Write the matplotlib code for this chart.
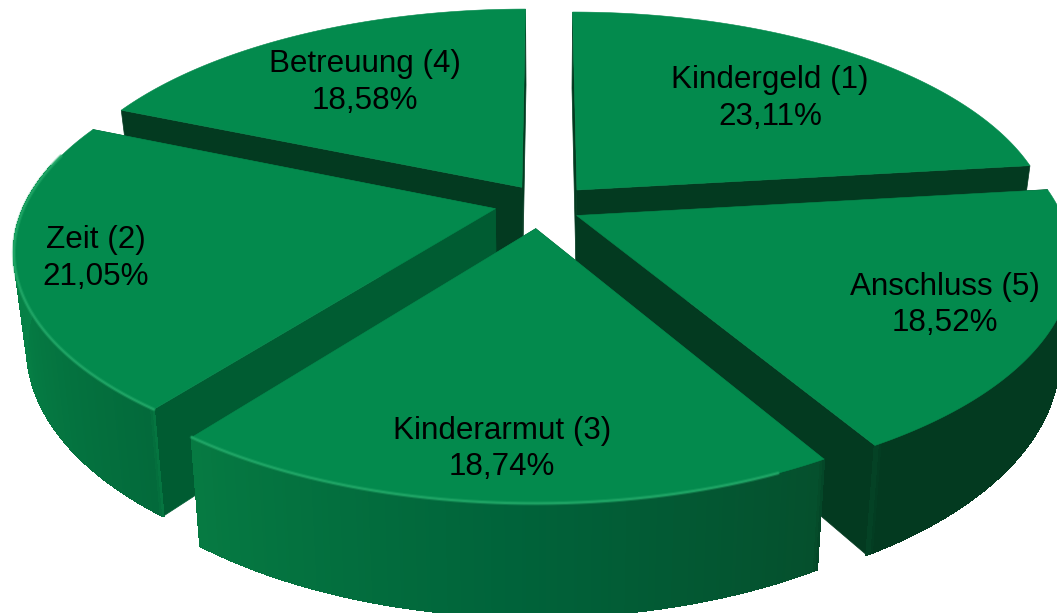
# -*- coding: utf-8 -*-
"""
Exploded 3D pie, drawn by hand because matplotlib has no real 3D pie.
Pixel space axes: x to the right, y downwards.
"""
import numpy as np
import matplotlib
matplotlib.use("Agg")
import matplotlib.pyplot as plt
from matplotlib.collections import PolyCollection
from matplotlib.colors import to_rgb

#%% --- Data (clockwise from 12 o'clock) ---

categories = ["Kindergeld (1)", "Anschluss (5)", "Kinderarmut (3)", "Zeit (2)", "Betreuung (4)"]
shares = [23.11, 18.52, 18.74, 21.05, 18.58]
share_labels = ["23,11%", "18,52%", "18,74%", "21,05%", "18,58%"]

#%% --- Projection settings ---

cx, cy = 540.5, 205.6
rx, ry = 482.0, 219.6
persp = 0.1855
explode = 0.09
depth = 91.0
shrink = 0.025

top_color = "#038a4d"
cut_dark = "#033a20"
cut_mid = "#005c32"
rim_color = "#22a868"

# per slice fine tuning: pixel nudge and radius factor
nudge = [(8, -1), (-3, 1), (-2, 3), (-3, -2), (5, -2)]
radius = [0.98, 1.0, 0.985, 0.975, 0.985]

# shading of the outer wall, by angle
shade_angles = [80, 149, 150.5, 182, 217, 218, 255, 300]
shade_colors = ["#033a20", "#033a20", "#05502d", "#00633a", "#067a42", "#036a3b", "#067f45", "#088a4c"]
shade_rgb = np.array([to_rgb(c) for c in shade_colors])

label_xy = {"Kindergeld (1)": (770, 80, 770, 117),
            "Anschluss (5)": (945, 287, 945, 323),
            "Kinderarmut (3)": (502, 431, 502, 467),
            "Zeit (2)": (96, 240, 96, 277),
            "Betreuung (4)": (365, 64, 365, 101)}


def project(x, y, z, off):
    s = 1.0 / (1.0 + persp * y)
    sx = cx + rx * x * s * (1 - shrink * z) + off[0]
    sy = cy - ry * y * s + depth * s * z + off[1]
    return np.column_stack([sx, sy])


def wall_shade(angle):
    return np.column_stack([np.interp(angle, shade_angles, shade_rgb[:, i]) for i in range(3)])


#%% --- Slice angles ---

edges = np.concatenate([[0], np.cumsum(shares)]) / np.sum(shares) * 360.0
slices = []
for i in range(len(shares)):
    a0, a1 = edges[i], edges[i + 1]
    mid = np.radians((a0 + a1) / 2)
    slices.append({"a0": a0, "a1": a1,
                   "ox": explode * np.sin(mid),
                   "oy": explode * np.cos(mid)})

#%% --- Figure ---

fig = plt.figure(figsize=(10.57, 6.13), dpi=100)
ax = fig.add_axes([0, 0, 1, 1])
ax.set_xlim(0, 1057)
ax.set_ylim(613, 0)
ax.axis("off")

# back slices first: Betreuung, Kindergeld, Zeit, Anschluss, Kinderarmut
draw_order = [4, 0, 3, 1, 2]
cut_colors = {0: cut_dark, 1: cut_dark, 2: cut_mid, 3: cut_mid, 4: cut_dark}

for i in draw_order:
    sl = slices[i]
    ang = np.linspace(sl["a0"], sl["a1"], 200)
    rad = np.radians(ang)
    x = sl["ox"] + radius[i] * np.sin(rad)
    y = sl["oy"] + radius[i] * np.cos(rad)
    up = project(x, y, 0.0, nudge[i])
    low = project(x, y, 1.0, nudge[i])
    apex_up = project(np.array([sl["ox"]]), np.array([sl["oy"]]), 0.0, nudge[i])
    apex_low = project(np.array([sl["ox"]]), np.array([sl["oy"]]), 1.0, nudge[i])

    # the two cut faces
    for end in [0, -1]:
        face = np.vstack([apex_up, up[end], low[end], apex_low])
        ax.fill(face[:, 0], face[:, 1], color=cut_colors[i], lw=0.5, zorder=1)

    # outer wall as many thin quads, only the part that faces the viewer
    front = np.where((ang >= 88) & (ang <= 282))[0]
    if len(front) > 1:
        quads = [np.vstack([up[j], up[j + 1], low[j + 1], low[j]]) for j in front[:-1]]
        cols = wall_shade(ang[front[:-1]])
        ax.add_collection(PolyCollection(quads, facecolors=cols, edgecolors=cols,
                                         linewidths=1.0, antialiaseds=False, zorder=1))

    # lid
    lid = np.vstack([apex_up, up])
    ax.fill(lid[:, 0], lid[:, 1], color=top_color, lw=0.4, zorder=1)

    # light rim on the lit front-left part
    mask = (ang > 155) & (ang < 285)
    if mask.sum() > 1:
        ax.plot(up[mask, 0], up[mask, 1], color=rim_color, lw=3.0, alpha=0.35,
                solid_capstyle="round", zorder=1)
        ax.plot(up[mask, 0], up[mask, 1], color=rim_color, lw=1.5, alpha=0.8,
                solid_capstyle="round", zorder=1)

#%% --- Labels ---

for name, pct in zip(categories, share_labels):
    x1, y1, x2, y2 = label_xy[name]
    ax.text(x1, y1, name, ha="center", va="center", fontsize=22.6,
            family="Liberation Sans", color="black", zorder=3)
    ax.text(x2, y2, pct, ha="center", va="center", fontsize=22.6,
            family="Liberation Sans", color="black", zorder=3)

fig.savefig("out.png", dpi=100, facecolor="white")
